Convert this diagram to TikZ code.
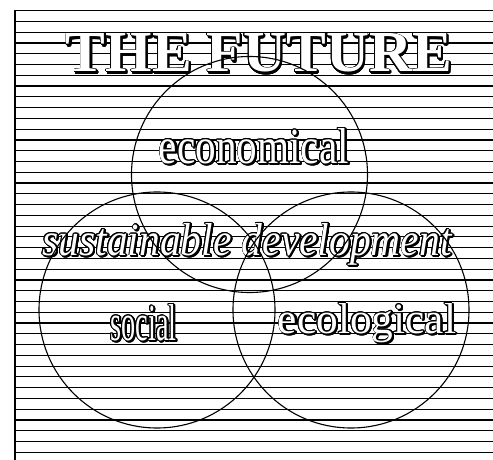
\documentclass[tikz,border=0pt]{standalone}
\usepackage{fontspec}
\setmainfont{Liberation Serif}
\usepackage{contour}
\contourlength{0.8pt}
\usepackage{tikz}
\usetikzlibrary{positioning}
% white letters, black rim, dropped shadow
\newcommand{\outlined}[3]{%
  \rlap{\kern1.3pt\raisebox{-1.3pt}{\color{black}\contour{black}{\resizebox{#1}{#2}{#3}}}}%
  {\color{white}\contour{black}{\resizebox{#1}{#2}{#3}}}}

\begin{document}
\begin{tikzpicture}[x=1pt, y=-1pt, line width=1.1pt,
  ring/.style={draw, circle, minimum size=236pt, inner sep=0pt},
  word/.style={inner sep=0pt, anchor=base}]
  \useasboundingbox (0,0) rectangle (493,460);

  % Ruled sheet, cut off at the right and bottom
  \begin{scope}
    \clip (0,0) rectangle (493,460);
    \foreach \k in {0,...,41}
      \draw[line width=1.2pt] (15,10.7+10.77*\k) -- (500,10.7+10.77*\k);
    \draw[line width=1.6pt] (15,10) -- (15,465);
    \draw[line width=1.6pt] (14.2,10.7) -- (500,10.7);
  \end{scope}

  % Labels
  \node[word] (future) at (259,72) {\outlined{386pt}{38pt}{\bfseries THE FUTURE}};
  \node[word] (econ) at (254,163) {\outlined{190pt}{35pt}{economical}};
  \node[word] (sustain) at (247,255) {\outlined{409pt}{32pt}{\itshape sustainable development}};
  \node[word] (social) at (143.5,340) {\outlined{66pt}{36pt}{social}};
  \node[word] (ecol) at (367,333) {\outlined{178pt}{30pt}{ecological}};

  % Three overlapping circles
  \node[ring] (econring) at (249.5,174.5) {};
  \node[ring] (socring) at (157,310) {};
  \node[ring] (ecolring) at (351,310) {};
\end{tikzpicture}
\end{document}
